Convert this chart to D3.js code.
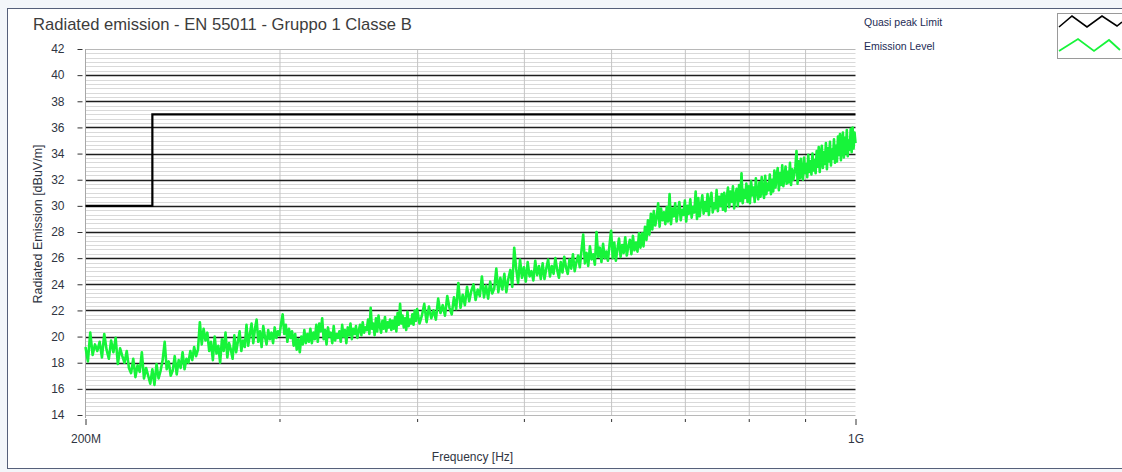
<!DOCTYPE html>
<html>
<head>
<meta charset="utf-8">
<script src="https://cdn.jsdelivr.net/npm/d3@7"></script>
<style>
  html, body { margin: 0; padding: 0; background: #f3f6fa; }
  svg { display: block; font-family: "Liberation Sans", Arial, sans-serif; }
</style>
</head>
<body>
<svg id="chart" width="1122" height="472"></svg>
<script>
'use strict';

// ---- data ----
var chartTitle  = 'Radiated emission - EN 55011 - Gruppo 1 Classe B';
var xTitle      = 'Frequency [Hz]';
var yTitle      = 'Radiated Emission [dBuV/m]';
var seriesNames = ['Quasi peak Limit', 'Emission Level'];

var xTickValues = [200e6, 300e6, 400e6, 500e6, 600e6, 700e6, 800e6, 900e6, 1e9];
var xTickLabels = ['200M', '', '', '', '', '', '', '', '1G'];
var yTickValues = [14, 16, 18, 20, 22, 24, 26, 28, 30, 32, 34, 36, 38, 40, 42];

// limit: step at 230 MHz
var limitFreqMHz = [200, 230, 230, 1000];
var limitLevel   = [30, 30, 37, 37];

// emission sweep, part 1: 200 .. 399 MHz every 1 MHz
var emissionLowStartMHz = 200;
var emissionLowStepMHz  = 1;
var emissionLow = [
  19.2, 18.1, 20.3, 18.6, 19.4, 18.9, 19.6, 18.4, 20.2, 19.0, 18.3, 19.7, 18.8, 19.9, 17.9, 19.1, 18.5, 18.0, 18.9, 17.6,
  17.2, 18.3, 16.9, 17.8, 17.3, 18.8, 16.8, 17.6, 17.0, 16.4, 17.5, 16.3, 17.9, 16.8, 17.4, 18.2, 19.6, 17.5, 18.1, 17.0,
  17.4, 18.5, 17.1, 18.2, 17.6, 18.8, 17.5, 18.3, 18.0, 18.9, 18.2, 19.2, 18.5, 19.0, 21.1, 19.4, 20.6, 19.7, 20.3, 18.9,
  19.6, 18.2, 20.0, 18.7, 19.3, 18.0, 19.8, 18.9, 20.3, 18.4, 19.5, 19.0, 18.3, 20.1, 18.8, 19.6, 20.4, 18.9, 19.7, 19.2,
  20.9, 19.3, 20.2, 21.0, 19.5, 20.6, 21.3, 19.6, 20.4, 19.2, 20.8, 20.0, 19.4, 20.5, 19.8, 20.3, 19.5, 20.7, 19.9, 20.4,
  20.1, 21.0, 21.7, 20.2, 20.9, 19.6, 20.6, 19.9, 20.4, 19.3, 20.2, 19.0, 19.8, 18.8, 20.0, 19.4, 20.5, 19.5, 20.2, 19.6,
  20.6, 19.5, 20.3, 19.8, 20.9, 19.6, 21.0, 20.4, 21.4, 19.8, 20.5, 19.4, 20.7, 20.0, 20.3, 19.5, 20.8, 19.7, 20.2, 19.9,
  20.4, 19.6, 20.9, 20.0, 20.5, 19.5, 20.7, 20.1, 21.0, 19.8, 20.6, 20.2, 20.8, 19.9, 20.4, 20.9, 20.1, 21.1, 20.3, 20.7,
  20.5, 21.3, 20.2, 22.2, 20.6, 21.0, 20.1, 21.4, 20.4, 21.6, 20.8, 20.3, 21.2, 20.6, 21.5, 20.4, 21.1, 20.7, 21.3, 20.5,
  21.2, 20.6, 21.5, 20.4, 21.8, 20.9, 22.5, 21.0, 21.6, 20.7, 21.4, 20.5, 21.9, 20.8, 21.3, 21.0, 21.7, 20.9, 22.0, 21.2
];

// emission sweep, part 2: 400 .. 1000 MHz every 2 MHz
var emissionHighStartMHz = 400;
var emissionHighStepMHz  = 2;
var emissionHigh = [
  22.1, 21.0, 21.6, 22.5, 21.1, 22.3, 21.4, 22.0, 21.3, 22.9, 21.8, 22.4, 21.6, 23.1, 22.2, 21.7, 23.0, 22.1, 24.1, 22.2,
  23.2, 22.4, 23.8, 22.7, 23.5, 24.0, 22.8, 23.6, 23.1, 24.6, 23.0, 23.9, 22.9, 24.2, 23.3, 23.7, 25.2, 23.4, 24.5, 23.6,
  24.8, 23.4, 24.4, 25.1, 23.8, 26.8, 25.2, 24.1, 25.9, 24.5, 25.3, 24.2, 25.7, 24.6, 25.0, 24.3, 25.8, 24.7, 25.4, 24.4,
  25.6, 24.4, 25.2, 25.9, 24.6, 25.4, 24.8, 26.0, 25.1, 24.5, 25.7, 24.9, 26.1, 25.3, 24.8, 25.9, 25.2, 26.3, 25.0, 25.7,
  26.2, 25.3, 26.6, 27.8, 25.6, 26.4, 25.4, 26.9, 25.9, 26.3, 25.5, 28.0, 26.1, 26.8, 25.7, 27.1, 26.0, 26.5, 25.8, 27.0,
  28.1, 26.0, 27.2, 25.8, 26.7, 27.5, 26.1, 27.0, 26.4, 27.6, 26.2, 26.9, 27.4, 26.3, 27.7, 26.6, 27.2, 26.5, 27.9, 26.8,
  27.9, 26.9, 28.4, 27.4, 28.9, 27.8, 29.4, 28.2, 29.6, 28.5, 29.1, 30.2, 28.4, 29.8, 28.9, 29.5, 28.6, 29.9, 28.8, 30.9,
  28.6, 29.8, 29.2, 30.2, 28.8, 29.6, 30.3, 28.9, 29.7, 29.3, 30.4, 28.8, 30.0, 29.4, 30.5, 29.1, 29.9, 29.5, 31.1, 29.0,
  30.6, 29.2, 30.1, 30.8, 29.4, 30.3, 29.6, 30.9, 29.3, 30.5, 31.0, 29.5, 30.2, 29.8, 31.2, 29.6, 30.7, 30.0, 30.9, 29.7,
  31.0, 29.6, 30.6, 31.4, 29.9, 31.1, 30.3, 31.5, 29.8, 30.8, 31.3, 30.0, 31.6, 30.4, 32.5, 30.2, 31.2, 30.6, 31.7, 30.3,
  31.5, 30.2, 31.9, 30.8, 31.4, 30.3, 32.1, 31.0, 30.5, 31.8, 30.7, 32.2, 31.1, 30.6, 32.3, 30.9, 31.7, 31.2, 32.4, 30.9,
  32.0, 31.1, 32.7, 31.4, 32.3, 32.9, 31.2, 32.5, 31.6, 33.1, 31.5, 32.2, 33.0, 31.7, 32.6, 31.8, 33.3, 31.6, 32.8, 32.0,
  32.4, 33.0, 34.2, 31.7, 33.4, 32.1, 33.6, 32.3, 32.0, 33.7, 32.5, 33.2, 32.2, 33.9, 32.6, 33.4, 32.4, 34.0, 32.7, 33.5,
  32.5, 34.2, 33.0, 34.5, 32.6, 33.8, 34.6, 32.9, 34.1, 33.2, 34.8, 32.8, 34.4, 33.4, 34.9, 33.1, 34.3, 33.6, 35.1, 33.3,
  34.6, 33.4, 35.3, 33.9, 35.5, 33.5, 34.8, 35.6, 33.7, 35.2, 34.0, 35.8, 33.8, 35.0, 34.3, 35.9, 34.1, 36.0, 34.4, 35.6,
  34.8
];

// ---- layout ----
var W = 1122, H = 472;
var plot = { left: 85.5, right: 855.5, top: 49, bottom: 415 };

var svg = d3.select('#chart');

var x = d3.scaleLog()
    .domain([200e6, 1e9])
    .range([plot.left, plot.right]);

var y = d3.scaleLinear()
    .domain([14, 42])
    .range([plot.bottom, plot.top]);

// frame
svg.append('rect')
    .attr('x', 7.5).attr('y', 8.5)
    .attr('width', W).attr('height', 460)
    .attr('fill', '#ffffff')
    .attr('stroke', '#56607a')
    .attr('stroke-width', 1);

// minor horizontal grid (every 1/3 unit)
var minorY = d3.range(14, 42.001, 2 / 6).filter(function (v) {
  return Math.abs(v - Math.round(v / 2) * 2) > 0.05;
});
svg.append('g').selectAll('line')
    .data(minorY)
    .enter().append('line')
    .attr('x1', plot.left).attr('x2', plot.right)
    .attr('y1', function (d) { return Math.round(y(d)) + 0.5; })
    .attr('y2', function (d) { return Math.round(y(d)) + 0.5; })
    .attr('stroke', '#d9d9d9')
    .attr('stroke-width', 1);

// vertical grid
svg.append('g')
    .attr('transform', 'translate(0,' + plot.bottom + ')')
    .call(d3.axisBottom(x).tickValues(xTickValues.slice(1, -1))
      .tickSize(-(plot.bottom - plot.top)).tickFormat(''))
    .call(function (g) {
      g.select('.domain').remove();
      g.selectAll('line').attr('stroke', '#c4c4c4');
    });

// major horizontal grid
svg.append('g').selectAll('line')
    .data(yTickValues)
    .enter().append('line')
    .attr('x1', plot.left).attr('x2', plot.right)
    .attr('y1', function (d) { return Math.round(y(d)) + 0.5; })
    .attr('y2', function (d) { return Math.round(y(d)) + 0.5; })
    .attr('stroke', function (d) { return (d === 14 || d === 42) ? '#b8b8b8' : '#1e1e1e'; })
    .attr('stroke-width', function (d) { return (d === 14 || d === 42) ? 1 : 1.4; });

// left axis line
svg.append('line')
    .attr('x1', plot.left).attr('x2', plot.left)
    .attr('y1', plot.top).attr('y2', plot.bottom + 3)
    .attr('stroke', '#a8a8a8');

// y ticks + labels
var yAxis = svg.append('g')
    .attr('transform', 'translate(' + (plot.left - 3) + ',0)')
    .call(d3.axisLeft(y).tickValues(yTickValues).tickSize(5).tickPadding(13)
      .tickFormat(d3.format('d')));
yAxis.select('.domain').remove();
yAxis.selectAll('line').attr('stroke', '#333');
yAxis.selectAll('text')
    .attr('font-size', 12)
    .attr('fill', '#2f3542')
    .style('font-family', '"Liberation Sans", Arial, sans-serif');

// x ticks + labels
var xAxis = svg.append('g')
    .attr('transform', 'translate(0,' + (plot.bottom + 4) + ')')
    .call(d3.axisBottom(x).tickValues(xTickValues).tickSize(3).tickPadding(12)
      .tickFormat(function (d, i) { return xTickLabels[i]; }));
xAxis.select('.domain').remove();
xAxis.selectAll('line')
    .attr('stroke', '#333')
    .attr('y2', function (d, i) { return xTickLabels[i] ? 6 : 3; });
xAxis.selectAll('text')
    .attr('font-size', 12)
    .attr('fill', '#2f3542')
    .style('font-family', '"Liberation Sans", Arial, sans-serif');

// limit line
var limitData = limitFreqMHz.map(function (f, i) { return { f: f * 1e6, v: limitLevel[i] }; });
var line = d3.line()
    .x(function (d) { return x(d.f); })
    .y(function (d) { return y(d.v); });

svg.append('path')
    .datum(limitData)
    .attr('d', line)
    .attr('fill', 'none')
    .attr('stroke', '#000')
    .attr('stroke-width', 2.2);

// emission line
var emissionData = emissionLow.map(function (v, i) {
  return { f: (emissionLowStartMHz + i * emissionLowStepMHz) * 1e6, v: v };
}).concat(emissionHigh.map(function (v, i) {
  return { f: (emissionHighStartMHz + i * emissionHighStepMHz) * 1e6, v: v };
}));

svg.append('path')
    .datum(emissionData)
    .attr('d', line)
    .attr('fill', 'none')
    .attr('stroke', '#17f43a')
    .attr('stroke-width', 2.6)
    .attr('stroke-linejoin', 'round');

// titles
svg.append('text')
    .attr('x', 33).attr('y', 30)
    .attr('font-size', 16.6)
    .attr('fill', '#3c3c3c')
    .text(chartTitle);

svg.append('text')
    .attr('x', (plot.left + plot.right) / 2 + 2).attr('y', 461)
    .attr('text-anchor', 'middle')
    .attr('font-size', 12)
    .attr('fill', '#2f3542')
    .text(xTitle);

svg.append('text')
    .attr('transform', 'translate(42,' + 224 + ') rotate(-90)')
    .attr('text-anchor', 'middle')
    .attr('font-size', 12.5)
    .attr('fill', '#2f3542')
    .text(yTitle);

// legend
var legend = svg.append('g');
legend.selectAll('text')
    .data(seriesNames)
    .enter().append('text')
    .attr('x', 864)
    .attr('y', function (d, i) { return 26 + i * 24; })
    .attr('font-size', 10.5)
    .attr('fill', '#1d2b55')
    .text(function (d) { return d; });

legend.append('rect')
    .attr('x', 1057.5).attr('y', 13.5)
    .attr('width', 80).attr('height', 45)
    .attr('fill', '#fff')
    .attr('stroke', '#9a9a9a');

var zig = d3.line();
legend.append('path')
    .attr('d', zig([[1059, 27], [1072, 16], [1087, 27], [1102, 16], [1117, 26], [1122, 22]]))
    .attr('fill', 'none').attr('stroke', '#000').attr('stroke-width', 1.6);
legend.append('path')
    .attr('d', zig([[1059, 51], [1078, 39], [1094, 51], [1109, 40], [1120, 50]]))
    .attr('fill', 'none').attr('stroke', '#17f43a').attr('stroke-width', 1.8);
</script>
</body>
</html>
